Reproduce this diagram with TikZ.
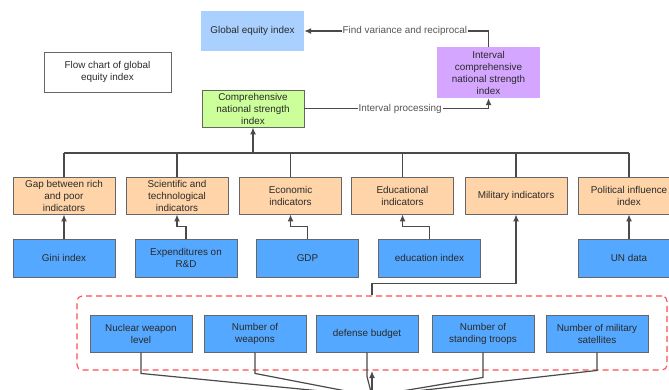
\documentclass[tikz,border=0pt]{standalone}
\usepackage{fontspec}
\setmainfont{Liberation Sans}
\usetikzlibrary{arrows.meta,calc}
\definecolor{lblue}{HTML}{A9D0FF}
\definecolor{mblue}{HTML}{55A8FF}
\definecolor{lorange}{HTML}{FFD4A8}
\definecolor{lgreen}{HTML}{CCFF99}
\definecolor{lpurple}{HTML}{D4A6FF}
\definecolor{lnc}{HTML}{4A4A4A}
\definecolor{txt}{HTML}{2A2A2A}
\definecolor{dred}{HTML}{FF4D4D}
\tikzset{
  base/.style={inner sep=0pt, align=center, font=\fontsize{9.9}{12}\selectfont, text=txt,
    minimum width=102pt, minimum height=37pt},
  orangebox/.style={base, fill=lorange, draw=gray!80!black, line width=0.9pt},
  bluebox/.style={base, fill=mblue, draw=gray!80!black, line width=0.9pt},
  conn/.style={draw=lnc, line width=1.2pt},
  arr/.style={conn, -{Latex[length=7pt,width=6pt]}},
  lab/.style={fill=white, inner sep=1pt, font=\fontsize{9.9}{11}\selectfont, text=txt!80!white},
}
\begin{document}
\begin{tikzpicture}[x=1pt,y=-1pt]
\useasboundingbox (0,0) rectangle (669,389);
\clip (0,0) rectangle (669,389);
% top
\node[base, fill=lblue, minimum width=103pt, minimum height=40pt] (glob) at (252.5,31) {Global equity index};
\node[base, draw=gray!80!black, line width=0.9pt, minimum width=127pt, minimum height=40pt] (flow) at (107.5,72) {Flow chart of global\\equity index};
\node[base, fill=lgreen, draw=gray!80!black, line width=0.9pt] (comp) at (253,108.5) {Comprehensive\\national strength\\index};
\node[base, fill=lpurple, minimum width=103pt, minimum height=51pt] (intv) at (488.5,72.5) {Interval\\comprehensive\\national strength\\index};
% orange row
\node[orangebox] (o1) at (64,195.5) {Gap between rich\\and poor\\indicators};
\node[orangebox] (o2) at (177,195.5) {Scientific and\\technological\\indicators};
\node[orangebox] (o3) at (290.5,195.5) {Economic\\indicators};
\node[orangebox] (o4) at (402.5,195.5) {Educational\\indicators};
\node[orangebox] (o5) at (516,195.5) {Military indicators};
\node[orangebox] (o6) at (629,195.5) {Political influence\\index};
% blue row
\node[bluebox, minimum height=38pt] (b1) at (64,258) {Gini index};
\node[bluebox, minimum height=38pt] (b2) at (186,258) {Expenditures on\\R\&D};
\node[bluebox, minimum height=38pt] (b3) at (307.5,258) {GDP};
\node[bluebox, minimum height=38pt] (b4) at (429.5,258) {education index};
\node[bluebox, minimum height=38pt] (b6) at (629,258) {UN data};
% military group
\node[draw=dred, dashed, dash pattern=on 6pt off 4pt, line width=1.1pt, rounded corners=5pt,
  minimum width=590pt, minimum height=74pt, inner sep=0pt] (grp) at (372,333) {};
\node[bluebox] (n1) at (141,333.5) {Nuclear weapon\\level};
\node[bluebox] (n2) at (255,333.5) {Number of\\weapons};
\node[bluebox] (n3) at (367,333.5) {defense budget};
\node[bluebox] (n4) at (483,333.5) {Number of\\standing troops};
\node[bluebox] (n5) at (597,333.5) {Number of military\\satellites};
\coordinate (hub) at (372,396);
\coordinate (hubtip) at (372,371);
\coordinate (bus) at (253,153);
% connectors top
\draw[arr] (intv.north) |- (glob.east) node[lab, pos=0.727] {Find variance and reciprocal};
\draw[arr] (comp.east) -| (intv.south) node[lab, pos=0.26] {Interval processing};
% bus
\draw[conn] (o1.north |- bus) -- (o6.north |- bus);
\foreach \o in {o1,o2,o3,o4,o5,o6} \draw[conn] (\o.north) -- (\o.north |- bus);
\draw[arr] (bus) -- (comp.south);
% blue to orange
\draw[arr] (b1.north) -- (o1.south);
\draw[arr] (b2.north) -- ++(0,-12) -| (o2.south);
\draw[arr] (b3.north) -- ++(0,-12) -| (o3.south);
\draw[arr] (b4.north) -- ++(0,-12) -| (o4.south);
\draw[arr] (b6.north) -- (o6.south);
\draw[arr] (grp.north) -- ++(0,-12) -| (o5.south);
% bottom
\draw[conn] (n1.south) -- ++(0,21) -- (hub);
\draw[conn] (n2.south) -- ++(0,21) -- (hub);
\draw[conn] (n3.south) -- ++(0,24) -- (hub);
\draw[conn] (n4.south) -- ++(0,25) -- (hub);
\draw[conn] (n5.south) -- ++(0,18) -- (hub);
\draw[arr] (hub) -- (hubtip);
\end{tikzpicture}
\end{document}
